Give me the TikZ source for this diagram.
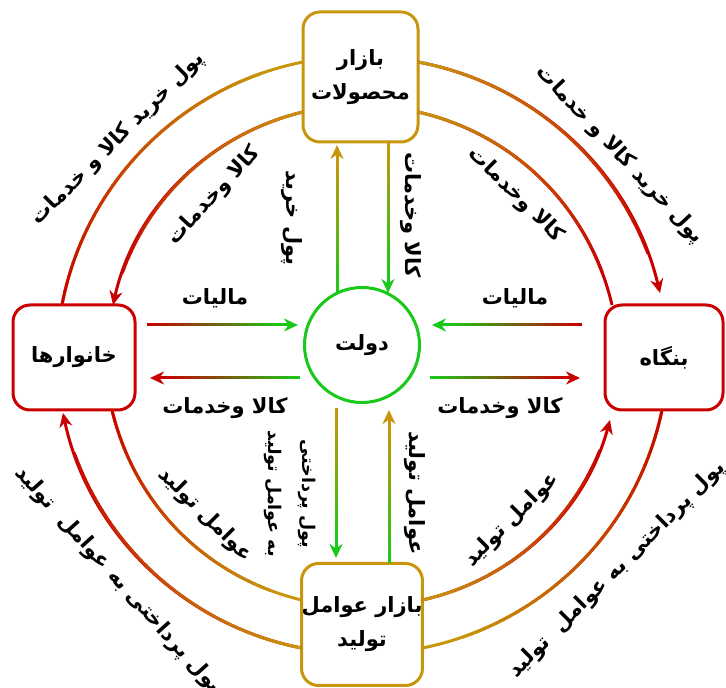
\documentclass[tikz,border=0pt]{standalone}
\usepackage{fontspec}
\usetikzlibrary{arrows.meta, decorations.markings}
\newfontfamily\farsi[Script=Arabic]{DejaVu Sans}
\TeXXeTstate=1
\newcommand{\fa}[1]{\beginR #1\endR}
\definecolor{mktgold}{RGB}{200,150,12}
\definecolor{agentred}{RGB}{200,0,0}
\definecolor{govgreen}{RGB}{25,200,25}

\tikzset{
  % colour runs from #1 at the start of the path to #2 near its end
  mixline/.style 2 args={draw=#2, line width=3pt,
    postaction={decorate, decoration={markings,
      mark=between positions 0 and 0.88 step 0.02 with {%
        \pgfmathsetmacro\mixpct{min(100,100*(\pgfkeysvalueof{/pgf/decoration/mark info/sequence number}-1)/44)}%
        \pgfmathsetmacro\seglen{\pgfdecoratedpathlength/50+0.8}%
        \draw[-, line width=3pt, #2!\mixpct!#1] (0pt,0pt) -- (\seglen pt,0pt);
      }}}},
  flowtip/.style={-{Stealth[length=14pt, width=13pt, inset=4.5pt]}},
  arcline/.style={looseness=0.93},
}

\begin{document}
\begin{tikzpicture}[x=1pt, y=1pt,
  box/.style={draw, line width=3pt, rounded corners=17pt, fill=white, outer sep=0pt,
    inner sep=0pt, align=center, font=\farsi\bfseries\fontsize{21}{34}\selectfont},
  lbl/.style={font=\farsi\bfseries\fontsize{21}{34}\selectfont, align=center, inner sep=1pt}]

\path[use as bounding box, fill=white] (0,0) rectangle (726,688);

% markets, agents and government
\node[box, draw=mktgold, minimum width=115pt, minimum height=130pt] (prod) at (360.5,611) {\fa{بازار}\\\fa{محصولات}};
\node[box, draw=mktgold, minimum width=120pt, minimum height=122pt] (fact) at (362,63.5) {\fa{بازار عوامل}\\\fa{تولید}};
\node[box, draw=agentred, minimum width=122pt, minimum height=105pt] (home) at (74,330.5) {\fa{خانوارها}};
\node[box, draw=agentred, minimum width=118pt, minimum height=105pt] (firm) at (664,330.5) {\fa{بنگاه}};
\node[circle, draw=govgreen, line width=3pt, fill=white, minimum size=115pt, outer sep=0pt,
  font=\farsi\bfseries\fontsize{21}{34}\selectfont] (gov) at (362,343) {\fa{دولت}};

% straight flows
\draw[mixline={agentred}{govgreen}, flowtip] ([shift={(12,32.5)}]home.east) -- ([shift={(-6.5,20)}]gov.west);
\draw[mixline={govgreen}{agentred}, flowtip] ([shift={(-4.5,-33)}]gov.west) -- ([shift={(15,-20.5)}]home.east);
\draw[mixline={agentred}{govgreen}, flowtip] ([shift={(-23,32.5)}]firm.west) -- ([shift={(12.5,20)}]gov.east);
\draw[mixline={govgreen}{agentred}, flowtip] ([shift={(10.5,-33)}]gov.east) -- ([shift={(-25,-20.5)}]firm.west);
\draw[mixline={govgreen}{mktgold}, flowtip] ([shift={(-25,-5.5)}]gov.north) -- ([shift={(-23.5,-3)}]prod.south);
\draw[mixline={mktgold}{govgreen}, flowtip] ([xshift=27.5]prod.south) -- ([shift={(26,-5.5)}]gov.north);
\draw[mixline={mktgold}{govgreen}, flowtip] ([shift={(-26,-5.5)}]gov.south) -- ([shift={(-26,5.5)}]fact.north);
\draw[mixline={govgreen}{mktgold}, flowtip] ([xshift=27]fact.north) -- ([shift={(27,-7.5)}]gov.south);

% circular flows
\draw[mixline={agentred}{mktgold}, arcline] ([xshift=-12]home.north) to[bend left=34] ([yshift=15]prod.west);
\draw[mixline={mktgold}{agentred}, arcline, flowtip] ([yshift=-35]prod.west) to[bend right=32] ([xshift=39]home.north);
\draw[mixline={mktgold}{agentred}, arcline, flowtip] ([yshift=15]prod.east) to[bend left=33] ([shift={(-4,12)}]firm.north);
\draw[mixline={mktgold}{agentred}, arcline] ([yshift=-35]prod.east) to[bend left=32] ([xshift=-52]firm.north);
\draw[mixline={mktgold}{agentred}, arcline, flowtip] ([yshift=-23.5]fact.west) to[bend left=33.5] ([shift={(-11,-3)}]home.south);
\draw[mixline={agentred}{mktgold}, arcline] ([xshift=38]home.south) to[bend right=31.5] ([yshift=24.5]fact.west);
\draw[mixline={mktgold}{agentred}, arcline, flowtip] ([yshift=24.5]fact.east) to[bend right=31] ([shift={(-54,-10)}]firm.south);
\draw[mixline={agentred}{mktgold}, arcline] ([xshift=-2]firm.south) to[bend left=33.5] ([yshift=-23.5]fact.east);

% labels
\node[lbl] (taxl) at (215,390) {\fa{مالیات}};
\node[lbl] (taxr) at (515,390) {\fa{مالیات}};
\node[lbl] (goodsl) at (225,280) {\fa{کالا وخدمات}};
\node[lbl] (goodsr) at (500,280) {\fa{کالا وخدمات}};
\node[lbl, rotate=-90] (buyg) at (292,470) {\fa{پول خرید}};
\node[lbl, rotate=-90] (goodsg) at (411,473) {\fa{کالا وخدمات}};
\node[lbl, rotate=-90, font=\farsi\bfseries\fontsize{17.5}{34}\selectfont] (payg) at (290,194) {\fa{پول پرداختی}\\\fa{به عوامل تولید}};
\node[lbl, rotate=-90] (factg) at (415,195) {\fa{عوامل تولید}};
\node[lbl, rotate=45] (buyhome) at (118,549) {\fa{پول خرید کالا و خدمات}};
\node[lbl, rotate=47] (goodshome) at (214,492) {\fa{کالا وخدمات}};
\node[lbl, rotate=-47] (buyfirm) at (620,533) {\fa{پول خرید کالا و خدمات}};
\node[lbl, rotate=-45] (goodsfirm) at (516,493) {\fa{کالا وخدمات}};
\node[lbl, rotate=-48] (payhome) at (118,108) {\fa{پول پرداختی به عوامل\ \ تولید}};
\node[lbl, rotate=-45] (facthome) at (205,173) {\fa{عوامل تولید}};
\node[lbl, rotate=45] (payfirm) at (617,118) {\fa{پول پرداختی به عوامل\ \ تولید}};
\node[lbl, rotate=45] (factfirm) at (512,168) {\fa{عوامل تولید}};
\end{tikzpicture}
\end{document}
